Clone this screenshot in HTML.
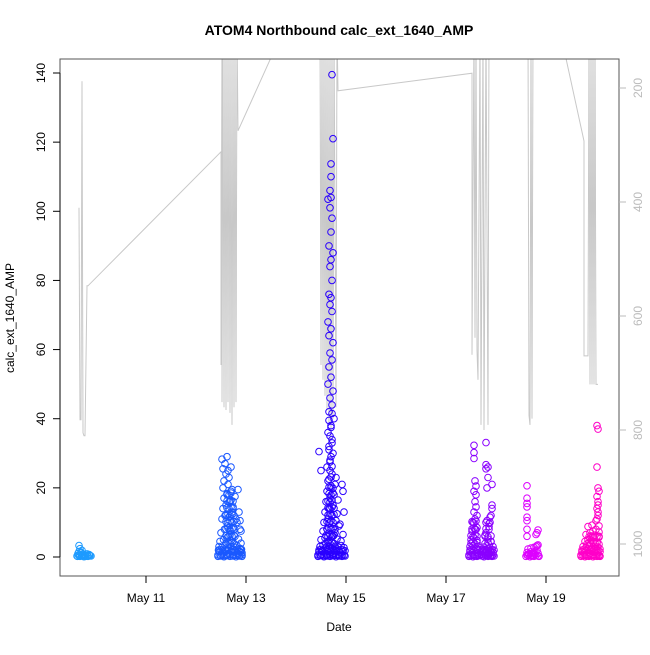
<!DOCTYPE html>
<html><head><meta charset="utf-8">
<style>
html,body{margin:0;padding:0;background:#fff;}
svg text{font-family:"Liberation Sans",Arial,sans-serif;}
</style></head>
<body>
<svg id="chart" width="650" height="650" xmlns="http://www.w3.org/2000/svg">
<defs><clipPath id="plotclip"><rect x="60" y="59" width="559" height="517"/></clipPath></defs>
<rect x="0" y="0" width="650" height="650" fill="#fff"/>
<text x="339" y="35" text-anchor="middle" font-size="14" font-weight="bold">ATOM4 Northbound calc_ext_1640_AMP</text>
<text x="339" y="631" text-anchor="middle" font-size="12">Date</text>
<text x="14" y="318" text-anchor="middle" font-size="12" transform="rotate(-90 14 318)">calc_ext_1640_AMP</text>
<g id="pressure" clip-path="url(#plotclip)"></g>
<g id="points"></g>
<g id="axes"></g>
</svg>
<script>
// ---- data ----
const xTickDays = [11, 13, 15, 17, 19];
const xTickLabels = ["May 11", "May 13", "May 15", "May 17", "May 19"];
const yTicks = [0, 20, 40, 60, 80, 100, 120, 140];
const pTicks = [200, 400, 600, 800, 1000];

const pressTime = [9.66,9.68,9.70,9.72,9.74,9.76,9.78,9.82,9.84,
 12.50,12.50,12.52,12.52,12.54,12.56,12.58,12.60,12.62,12.64,12.66,12.68,12.70,12.72,12.74,12.76,12.78,12.80,12.82,12.84,13.74,
 14.48,14.50,14.52,14.54,14.56,14.58,14.60,14.62,14.64,14.66,14.68,14.70,14.72,14.74,14.76,14.80,14.82,14.84,
 17.52,17.52,17.56,17.58,17.60,17.62,17.64,17.68,17.70,17.74,17.76,17.80,17.84,17.86,
 18.64,18.66,18.68,18.70,18.72,18.74,
 19.28,19.76,19.76,19.84,19.86,19.88,19.90,19.92,19.94,19.96,19.98,20.00,20.04];
const pressVal = [410,782,782,188,805,810,810,547,547,
 312,686,100,751,100,760,100,765,100,751,100,770,100,791,100,760,100,751,100,275,100,
 100,686,100,712,100,740,100,765,100,790,100,817,100,780,100,760,100,205,
 174,668,100,638,100,660,712,100,791,100,800,100,791,100,
 100,774,791,100,780,100,
 100,293,670,670,100,720,100,720,100,720,100,720,720];

const c1Time = [9.62,9.65,9.68,9.72,9.76,9.80,9.84,9.88,9.90,9.64,9.70,9.74,9.78,9.82,9.86,9.66,9.70,9.68,9.66,9.72,9.63,9.67,9.71,9.75,9.79,9.83,9.87];
const c1Val  = [0.3,0.5,0.2,0.4,0.1,0.3,0.2,0.4,0.3,1.0,1.2,0.8,0.6,0.9,0.7,1.6,1.4,2.4,3.3,1.9,0.2,0.6,0.3,0.5,0.2,0.4,0.6];

const c2Time = [12.44,12.50,12.56,12.62,12.68,12.74,12.80,12.86,12.92,12.47,12.53,12.59,12.65,12.71,12.77,12.83,12.89,12.46,12.52,12.58,12.64,12.70,12.76,12.82,12.88,12.48,12.55,12.62,12.70,12.78,12.85,12.90,12.50,12.57,12.63,12.68,12.75,12.82,12.88,12.52,12.58,12.66,12.72,12.80,12.54,12.60,12.68,12.74,12.56,12.62,12.70,12.78,12.54,12.64,12.72,12.56,12.66,12.60,12.54,12.70,12.58,12.52,12.62,12.64,12.84,12.86,12.88,12.90,12.45,12.91];
const c2Val  = [0.2,0.3,0.1,0.4,0.2,0.3,0.1,0.3,0.2,1.5,1.2,1.8,1.0,1.6,1.3,1.1,1.4,3.0,2.8,3.4,2.6,3.1,2.9,3.2,2.5,4.5,5.0,5.5,4.8,6.0,5.2,4.0,7.0,8.0,9.0,7.5,8.5,10,8.0,11,12,11.5,13,11,14,15,16,14.5,17,18,19,17.5,20,21,19.5,22,23,24,25.5,26,27,28.3,29,25,19.5,13,10.5,7.5,2.0,2.2];
const c2bTime = [12.44,12.48,12.52,12.56,12.60,12.64,12.68,12.72,12.76,12.80,12.84,12.88,12.92,12.46,12.50,12.54,12.58,12.62,12.66,12.70,12.74,12.78,12.82,12.86,12.90,12.92,
 12.60,12.64,12.68,12.72,12.76,12.60,12.64,12.68,12.72,12.76,12.60,12.64,12.68,12.72,12.76,12.60,12.64,12.68,12.72,12.76,12.60,12.64,12.68,12.72,12.76,12.62,12.66,12.70,12.74,12.62,12.66,12.70,12.74,12.62,12.66,12.70];
const c2bVal  = [0.6,0.5,0.7,0.4,0.6,0.5,0.7,0.4,0.6,0.5,0.7,0.4,0.6,1.9,2.1,1.8,2.2,1.9,2.0,1.8,2.1,1.9,2.2,1.8,2.0,1.2,
 4.0,4.3,3.8,4.2,3.9,6.2,5.9,6.4,6.0,6.3,8.1,8.4,7.9,8.2,8.0,10.2,9.8,10.4,10.0,10.3,12.1,12.4,11.9,12.3,12.0,14.2,13.9,14.4,14.1,16.2,15.9,16.4,16.1,18.3,17.9,18.5];

const c3Time = [14.44,14.50,14.56,14.62,14.68,14.74,14.80,14.86,14.92,14.98,14.46,14.52,14.58,14.64,14.70,14.76,14.82,14.88,14.94,14.48,14.54,14.60,14.66,14.72,14.78,14.84,14.90,14.96,14.50,14.58,14.66,14.74,14.82,14.90,14.54,14.62,14.70,14.78,14.86,14.94,14.56,14.64,14.72,14.80,14.88,14.58,14.66,14.74,14.82,14.60,14.68,14.76,14.84,14.62,14.70,14.78,14.64,14.72,14.80,14.62,14.68,14.74,14.66,14.72,14.64,14.70,14.76,14.66,14.72,14.68,14.74,14.64,14.70,14.66,14.72,14.68,14.74,14.66,14.70,14.64,14.72,14.68,14.70,14.66,14.72,14.68,14.70,14.74,14.66,14.70,14.72,14.68,14.70,14.92,14.94,14.96,14.46,14.50];
const c3Val  = [0.2,0.4,0.1,0.3,0.2,0.4,0.1,0.3,0.2,0.3,1.5,1.8,1.2,1.6,1.4,1.1,1.7,1.3,1.5,3.0,3.4,2.8,3.2,2.6,3.1,2.9,3.3,2.7,5.0,5.5,4.8,6.0,5.2,4.6,7.5,8.0,8.5,7.0,9.0,6.5,10,11,12,10.5,9.5,13,14,15,12.5,16,17,18,16.5,19,20,21,22,24,23,26,28,30,32,34,36,38,40,42,44,46,48,50,52,55,57,59,62,64,66,68,71,73,75,76,80,84,86,88,90,94,98,101,104,21,19,13,30.5,25];
const c3bTime = [14.72,14.74,14.70,14.70,14.68,14.64];
const c3bVal  = [139.5,121,113.7,110,106,103.5];
const c3cTime = [14.44,14.48,14.52,14.56,14.60,14.64,14.68,14.72,14.76,14.80,14.84,14.88,14.92,14.96,14.46,14.50,14.54,14.58,14.62,14.66,14.70,14.74,14.78,14.82,14.86,14.90,14.94,14.98,
 14.60,14.64,14.68,14.72,14.76,14.60,14.64,14.68,14.72,14.76,14.62,14.66,14.70,14.74,14.78,14.62,14.66,14.70,14.74,14.64,14.68,14.72,14.76,14.64,14.68,14.72,14.76,14.64,14.68,14.72,14.66,14.70,14.74,14.66,14.70,14.74,14.66,14.70,14.68,14.72,14.68,14.70,14.66,14.72,14.68,14.70,14.66,14.72];
const c3cVal  = [0.6,0.5,0.7,0.4,0.6,0.5,0.7,0.4,0.6,0.5,0.7,0.4,0.6,0.5,2.0,2.2,1.9,2.3,2.0,2.1,1.9,2.2,2.0,2.3,1.9,2.1,2.0,1.8,
 4.0,4.3,3.8,4.2,3.9,6.2,5.9,6.4,6.0,6.3,8.1,8.4,7.9,8.2,8.0,10.2,9.8,10.4,10.0,12.1,12.4,11.9,12.3,14.2,13.9,14.4,14.1,16.2,15.9,16.4,18.3,17.9,18.5,20.2,20.6,19.9,22.5,23.1,25.0,26.2,27.5,29.0,31.0,33.0,35.0,37.5,39.5,41.5];

const c4Time = [17.46,17.50,17.54,17.58,17.62,17.66,17.72,17.76,17.80,17.84,17.88,17.92,17.96,17.48,17.52,17.56,17.60,17.64,17.74,17.78,17.82,17.86,17.90,17.94,17.48,17.54,17.60,17.64,17.76,17.82,17.88,17.94,17.50,17.56,17.62,17.78,17.84,17.90,17.52,17.58,17.62,17.80,17.86,17.54,17.58,17.62,17.82,17.88,17.56,17.60,17.58,17.60,17.56,17.60,17.58,17.82,17.84,17.92,17.90,17.88,17.84,17.92,17.92];
const c4Val  = [0.2,0.4,0.1,0.3,0.2,0.4,0.3,0.1,0.4,0.2,0.3,0.2,0.3,1.5,1.2,1.8,1.4,1.1,1.6,1.3,1.7,1.2,1.5,1.4,3.0,3.3,2.8,3.1,2.9,3.2,2.7,3.0,5.0,5.5,4.8,6.0,5.2,4.5,7.5,8.0,8.5,7.0,8.8,10,11,12,10.5,11.5,13,14.5,16,18,19,20.5,22,20,23,21,12,10,26,15,14];
const c4bTime = [17.56,17.56,17.56,17.80,17.80,17.80];
const c4bVal  = [32.3,30.2,28.5,33.1,26.7,25.5];
const c4cTime = [17.46,17.50,17.54,17.58,17.62,17.66,17.70,17.74,17.78,17.82,17.86,17.90,17.94,17.48,17.52,17.56,17.60,17.64,17.68,17.72,17.76,17.80,17.84,17.88,17.92,17.96,
 17.50,17.54,17.58,17.62,17.78,17.84,17.90,17.50,17.54,17.58,17.62,17.78,17.84,17.90,17.52,17.56,17.60,17.80,17.86,17.52,17.56,17.60,17.80,17.86];
const c4cVal  = [0.6,0.5,0.7,0.4,0.6,0.5,0.7,0.4,0.6,0.5,0.7,0.4,0.6,2.0,2.2,1.9,2.3,2.0,2.1,1.9,2.2,2.0,2.3,1.9,2.1,2.0,
 4.0,4.3,3.8,4.2,3.9,4.1,4.4,6.2,5.9,6.4,6.0,6.3,5.8,6.1,8.1,8.4,7.9,8.2,8.0,10.2,9.8,10.4,10.0,9.7];

const c5Time = [18.60,18.64,18.68,18.72,18.76,18.80,18.84,18.86,18.62,18.66,18.70,18.74,18.78,18.82,18.64,18.70,18.76,18.82,18.62,18.62,18.62,18.62,18.62,18.62,18.62,18.62,18.80,18.82,18.84,18.62,18.66,18.70,18.74,18.78,18.84,18.80,18.84];
const c5Val  = [0.2,0.4,0.1,0.3,0.2,0.4,0.3,0.2,1.3,1.0,1.5,1.2,1.4,2.0,2.3,2.6,2.8,3.3,20.6,17.0,15.5,14.5,11.5,10.5,8.0,6.0,6.5,7.0,7.8,0.6,0.7,0.5,0.6,0.8,1.1,3.0,3.5];

const c6Time = [19.70,19.74,19.78,19.82,19.86,19.90,19.94,19.98,20.02,20.06,20.08,19.72,19.76,19.80,19.84,19.88,19.92,19.96,20.00,20.04,20.08,19.74,19.80,19.86,19.92,19.98,20.04,19.78,19.84,19.90,19.96,20.02,20.06,19.80,19.88,19.94,20.00,20.06,19.84,19.92,20.00,20.06,20.04,20.02,20.04,20.02,20.06,20.04,20.02,20.04,20.02,20.04,20.02,20.04];
const c6Val  = [0.2,0.4,0.1,0.3,0.2,0.4,0.1,0.3,0.2,0.3,0.2,1.5,1.2,1.8,1.4,1.1,1.6,1.3,1.7,1.2,1.5,3.0,2.8,3.3,2.6,3.1,2.9,4.5,5.0,4.8,5.5,4.2,6.0,6.5,7.0,7.5,8.0,7.2,8.8,9.2,10.5,9.0,12,14,16,17.5,19,20,26,13,11,37,38,15];
const c6cTime = [19.70,19.74,19.78,19.82,19.86,19.90,19.94,19.98,20.02,20.06,19.72,19.76,19.80,19.84,19.88,19.92,19.96,20.00,20.04,20.08,19.82,19.86,19.90,19.94,19.98,20.02,20.06,19.86,19.90,19.94,19.98,20.02,20.06];
const c6cVal  = [0.6,0.5,0.7,0.4,0.6,0.5,0.7,0.4,0.6,0.5,2.0,2.2,1.9,2.3,2.0,2.1,1.9,2.2,2.0,2.3,3.8,4.1,3.9,4.2,4.0,4.3,3.7,5.8,6.1,5.9,6.3,6.0,5.7];

// ---- scales ----
const xOf = d => 146 + (d - 11) * 50;
const yOf = v => 557 - v * (484 / 140);
const pOf = p => 88 + (p - 200) * 0.57;
const NS = "http://www.w3.org/2000/svg";
function mk(tag, attrs, parent){const e=document.createElementNS(NS,tag);for(const k in attrs)e.setAttribute(k,attrs[k]);parent.appendChild(e);return e;}

// pressure line
const pg = document.getElementById('pressure');
let d = pressTime.map((t,i)=>(i?'L':'M')+xOf(t).toFixed(1)+','+pOf(pressVal[i]).toFixed(1)).join(' ');
const pl = mk('path',{d:d,fill:'none',stroke:'#c8c8c8','stroke-width':'1'},pg);



// points
const ptsG = document.getElementById('points');
const clusters = [[c1Time,c1Val,'#1e9bff','cluster-may-9'],[c2Time,c2Val,'#1a58ff','cluster-may-12'],[c2bTime,c2bVal,'#1a58ff','cluster-may-12-base'],[c3Time,c3Val,'#2a00ff','cluster-may-14'],[c3cTime,c3cVal,'#2a00ff','cluster-may-14-base'],[c3bTime,c3bVal,'#2a00ff','cluster-may-14-high'],[c4Time,c4Val,'#8a00ff','cluster-may-17'],[c4cTime,c4cVal,'#8a00ff','cluster-may-17-base'],[c4bTime,c4bVal,'#8a00ff','cluster-may-17-high'],[c5Time,c5Val,'#dd00ff','cluster-may-18'],[c6Time,c6Val,'#ff00c8','cluster-may-19'],[c6cTime,c6cVal,'#ff00c8','cluster-may-19-base']];
clusters.forEach(c=>{
  const g = mk('g',{},ptsG);
  
  
  c[0].forEach((t,i)=>{
    const ci = mk('circle',{cx:xOf(t).toFixed(1),cy:yOf(c[1][i]).toFixed(1),r:'3.3',fill:'none',stroke:c[2],'stroke-width':'1'},g);
    
    
  });
});

// axes
const ax = document.getElementById('axes');
const box = mk('rect',{x:60,y:59,width:559,height:517,fill:'none',stroke:'#555','stroke-width':'1'},ax);


xTickDays.forEach((dd,i)=>{
  const x = xOf(dd);
  mk('line',{x1:x,y1:576,x2:x,y2:583,stroke:'#000'},ax);
  const t = mk('text',{x:x,y:602,'text-anchor':'middle','font-size':'12'},ax);
  t.textContent = xTickLabels[i];
  
  
});
mk('line',{x1:60,y1:yOf(0),x2:60,y2:yOf(140),stroke:'#000'},ax);
yTicks.forEach(v=>{
  const y = yOf(v);
  mk('line',{x1:53,y1:y,x2:60,y2:y,stroke:'#000'},ax);
  const t = mk('text',{x:0,y:0,'text-anchor':'middle','font-size':'12',transform:'translate(45,'+y+') rotate(-90)'},ax);
  t.textContent = v;
  
  
});
pTicks.forEach(p=>{
  const y = pOf(p);
  mk('line',{x1:619,y1:y,x2:626,y2:y,stroke:'#bbb'},ax);
  const t = mk('text',{x:0,y:0,'text-anchor':'middle','font-size':'12',fill:'#bbb',transform:'translate(642,'+y+') rotate(-90)'},ax);
  t.textContent = p;
  
  
});
</script>
</body></html>
